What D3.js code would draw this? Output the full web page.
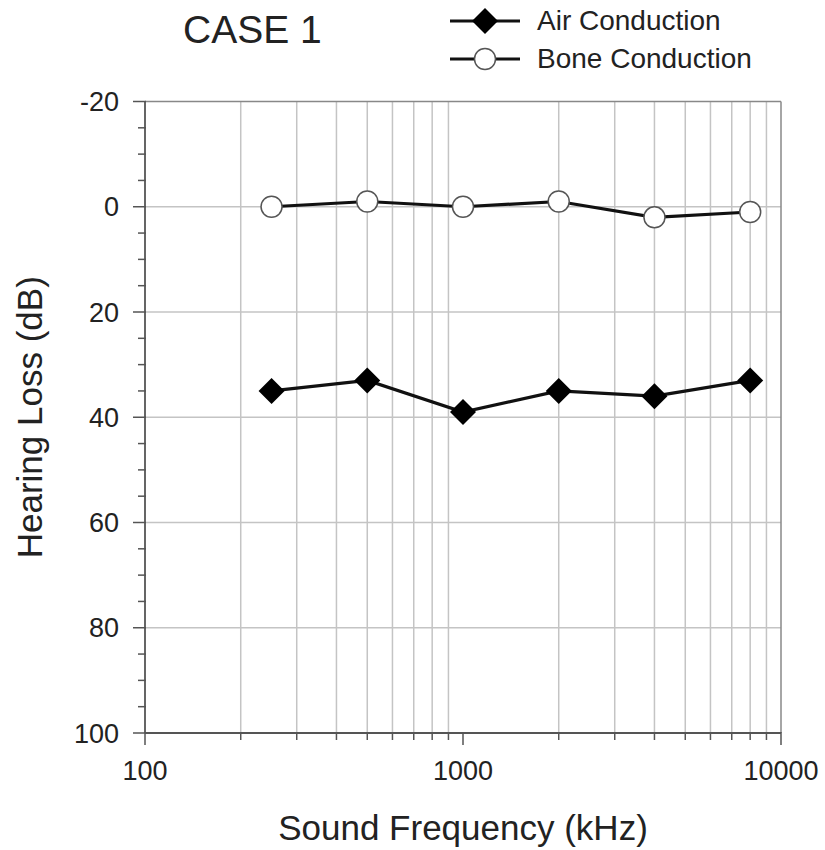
<!DOCTYPE html>
<html>
<head>
<meta charset="utf-8">
<script src="https://cdn.jsdelivr.net/npm/d3@7"></script>
<style>
  html, body { margin: 0; padding: 0; background: #fff; }
  svg { display: block; }
  text { font-family: "Liberation Sans", Arial, Helvetica, sans-serif; fill: #222; }
</style>
</head>
<body>
<svg id="chart" width="825" height="850"></svg>
<script>
// ---- data ----
const frequencies = [250, 500, 1000, 2000, 4000, 8000];
const airConduction = [35, 33, 39, 35, 36, 33];
const boneConduction = [0, -1, 0, -1, 2, 1];
const xTickLabels = ["100", "1000", "10000"];
const yTickValues = [-20, 0, 20, 40, 60, 80, 100];
const chartTitle = "CASE 1";
const seriesNames = ["Air Conduction", "Bone Conduction"];

// ---- layout ----
const svg = d3.select("#chart");
const L = 145, R = 781, T = 101.5, B = 733;

const x = d3.scaleLog().domain([100, 10000]).range([L, R]);
const y = d3.scaleLinear().domain([-20, 100]).range([T, B]);

// minor x values for grid
const xGrid = [];
for (let d = 100; d < 10000; d *= 10) {
  for (let k = 2; k <= 9; k++) xGrid.push(d * k);
}
const yMinor = d3.range(-20, 101, 5);

// grid
const g = svg.append("g");
g.selectAll("line.vg").data(xGrid).join("line")
  .attr("x1", d => x(d)).attr("x2", d => x(d))
  .attr("y1", T).attr("y2", B)
  .attr("stroke", "#c4c4c4").attr("stroke-width", 1.5);
g.selectAll("line.hg").data(yTickValues.filter(v => v > -20 && v < 100)).join("line")
  .attr("x1", L).attr("x2", R)
  .attr("y1", d => y(d)).attr("y2", d => y(d))
  .attr("stroke", "#c4c4c4").attr("stroke-width", 1.5);

// frame top & right
svg.append("line").attr("x1", L).attr("x2", R).attr("y1", T).attr("y2", T)
  .attr("stroke", "#888").attr("stroke-width", 1.5);
svg.append("line").attr("x1", R).attr("x2", R).attr("y1", T).attr("y2", B)
  .attr("stroke", "#888").attr("stroke-width", 1.5);

// left axis
const yAxis = svg.append("g");
yAxis.append("line").attr("x1", L).attr("x2", L).attr("y1", T).attr("y2", B)
  .attr("stroke", "#555").attr("stroke-width", 1.8);
yAxis.selectAll("line.ymin").data(yMinor).join("line")
  .attr("x1", d => yTickValues.includes(d) ? L - 12 : L - 7)
  .attr("x2", L + 1)
  .attr("y1", d => y(d)).attr("y2", d => y(d))
  .attr("stroke", "#555").attr("stroke-width", 1.5);
yAxis.selectAll("text").data(yTickValues).join("text")
  .attr("x", 119).attr("y", d => y(d))
  .attr("dy", "0.36em")
  .attr("text-anchor", "end")
  .attr("font-size", 27)
  .text(d => d);

// bottom axis
const xAxis = svg.append("g");
xAxis.append("line").attr("x1", L).attr("x2", R).attr("y1", B).attr("y2", B)
  .attr("stroke", "#555").attr("stroke-width", 1.8);
const xMajors = xTickLabels.map(Number);
xAxis.selectAll("line.xt").data(xGrid.concat(xMajors)).join("line")
  .attr("x1", d => x(d)).attr("x2", d => x(d))
  .attr("y1", B - 1)
  .attr("y2", d => xMajors.includes(d) ? B + 12 : B + 7)
  .attr("stroke", "#555").attr("stroke-width", 1.5);
xAxis.selectAll("text").data(xTickLabels).join("text")
  .attr("x", d => x(+d)).attr("y", 780)
  .attr("text-anchor", "middle")
  .attr("font-size", 27)
  .text(d => d);

// axis titles
svg.append("text").attr("x", (L + R) / 2).attr("y", 840)
  .attr("text-anchor", "middle").attr("font-size", 35)
  .text("Sound Frequency (kHz)");
svg.append("text")
  .attr("transform", `translate(42,${(T + B) / 2}) rotate(-90)`)
  .attr("text-anchor", "middle").attr("font-size", 35)
  .text("Hearing Loss (dB)");

// title
svg.append("text").attr("x", 183).attr("y", 43)
  .attr("font-size", 39).text(chartTitle);

// series
const line = d3.line().x(d => x(d[0])).y(d => y(d[1]));
const airData = frequencies.map((f, i) => [f, airConduction[i]]);
const boneData = frequencies.map((f, i) => [f, boneConduction[i]]);

svg.append("path").datum(boneData).attr("d", line)
  .attr("fill", "none").attr("stroke", "#111").attr("stroke-width", 3.2);
svg.append("path").datum(airData).attr("d", line)
  .attr("fill", "none").attr("stroke", "#111").attr("stroke-width", 3.2);

const diamond = (cx, cy, r) => `M${cx},${cy - r}L${cx + r},${cy}L${cx},${cy + r}L${cx - r},${cy}Z`;

svg.selectAll("path.air").data(airData).join("path")
  .attr("d", d => diamond(x(d[0]), y(d[1]), 13))
  .attr("fill", "#000");
svg.selectAll("circle.bone").data(boneData).join("circle")
  .attr("cx", d => x(d[0])).attr("cy", d => y(d[1])).attr("r", 10.5)
  .attr("fill", "#fff").attr("stroke", "#555").attr("stroke-width", 1.5);

// legend
const legY = [21, 59];
const lg = svg.append("g");
lg.selectAll("line").data(legY).join("line")
  .attr("x1", 450).attr("x2", 520).attr("y1", d => d).attr("y2", d => d)
  .attr("stroke", "#111").attr("stroke-width", 3);
lg.append("path").attr("d", diamond(485, legY[0], 13)).attr("fill", "#000");
lg.append("circle").attr("cx", 485).attr("cy", legY[1]).attr("r", 10.5)
  .attr("fill", "#fff").attr("stroke", "#555").attr("stroke-width", 1.5);
lg.selectAll("text").data(seriesNames).join("text")
  .attr("x", 537).attr("y", (d, i) => legY[i] + 9)
  .attr("font-size", 28)
  .text(d => d);
</script>
</body>
</html>
